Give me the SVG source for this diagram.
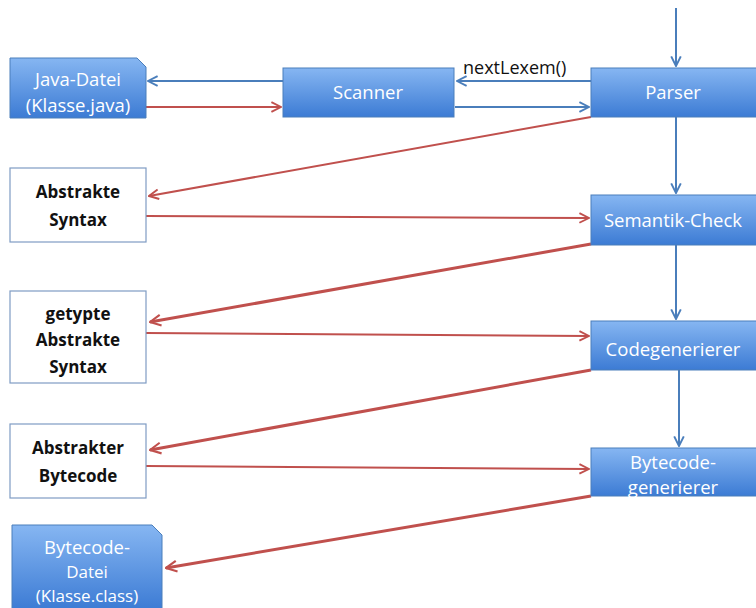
<svg xmlns="http://www.w3.org/2000/svg" width="756" height="608" viewBox="0 0 756 608">
<defs>
<linearGradient id="bg" x1="0" y1="0" x2="0" y2="1">
<stop offset="0" stop-color="#86b6f2"/>
<stop offset="1" stop-color="#3c7bd4"/>
</linearGradient>
<marker id="ab" viewBox="0 0 10 10" refX="9" refY="5" markerWidth="6" markerHeight="6" orient="auto" markerUnits="strokeWidth">
<path d="M1,1 L9,5 L1,9" fill="none" stroke="#4a7ebb" stroke-width="1.6"/>
</marker>
<marker id="ar" viewBox="0 0 10 10" refX="9" refY="5" markerWidth="6" markerHeight="6" orient="auto" markerUnits="strokeWidth">
<path d="M1,1 L9,5 L1,9" fill="none" stroke="#c0504d" stroke-width="1.6"/>
</marker>
<marker id="ar2" viewBox="0 0 10 10" refX="9" refY="5" markerWidth="4.5" markerHeight="4.5" orient="auto" markerUnits="strokeWidth">
<path d="M1,1 L9,5 L1,9" fill="none" stroke="#c0504d" stroke-width="1.6"/>
</marker>
</defs>
<style>
.bx{fill:url(#bg);stroke:#4a7ebb;stroke-width:1}
.wb{fill:#fff;stroke:#7f9cc4;stroke-width:1.2}
.wt{font-family:"Open Sans","Liberation Sans",sans-serif;font-size:18.5px;fill:#fff;text-anchor:middle}
.ws{font-family:"Open Sans","Liberation Sans",sans-serif;font-size:17px;fill:#fff;text-anchor:middle}
.bt{font-family:"Open Sans","Liberation Sans",sans-serif;font-size:17px;font-weight:bold;fill:#111;text-anchor:middle}
.lt{font-family:"Open Sans","Liberation Sans",sans-serif;font-size:18px;fill:#111}
.b{stroke:#4a7ebb;stroke-width:2;fill:none;marker-end:url(#ab)}
.r{stroke:#c0504d;stroke-width:2;fill:none;marker-end:url(#ar)}
.r3{stroke:#c0504d;stroke-width:3;fill:none;marker-end:url(#ar2)}
</style>
<g id="connectors">
<line class="b" x1="676" y1="8" x2="676" y2="66"/>
<line class="b" x1="591" y1="81" x2="457" y2="81"/>
<line class="b" x1="455" y1="107" x2="589" y2="107"/>
<line class="b" x1="283" y1="81" x2="148" y2="81"/>
<line class="r" x1="146" y1="107" x2="281" y2="107"/>
<line class="r" x1="591" y1="117" x2="149" y2="196"/>
<line class="b" x1="676" y1="117" x2="676" y2="193"/>
<line class="r" x1="146" y1="216" x2="589" y2="218"/>
<line class="r3" x1="591" y1="244" x2="150" y2="322"/>
<line class="b" x1="676" y1="245" x2="676" y2="319"/>
<line class="r" x1="146" y1="333" x2="589" y2="336"/>
<line class="r3" x1="591" y1="370" x2="150" y2="450"/>
<line class="b" x1="679" y1="370" x2="679" y2="446"/>
<line class="r" x1="146" y1="466" x2="589" y2="469"/>
<line class="r3" x1="591" y1="496" x2="166" y2="568"/>
<text class="lt" x="463" y="74">nextLexem()</text>
</g>
<g id="java-datei">
<path class="bx" d="M10,58 H137 L146,67 V118 H10 Z"/>
<text class="wt" x="78" y="86">Java-Datei</text>
<text class="wt" x="78" y="112">(Klasse.java)</text>
</g>
<g id="scanner">
<rect class="bx" x="283" y="68" width="171" height="49"/>
<text class="wt" x="368" y="99">Scanner</text>
</g>
<g id="parser">
<rect class="bx" x="591" y="68" width="166" height="49"/>
<text class="wt" x="673" y="99">Parser</text>
</g>
<g id="abstrakte-syntax">
<rect class="wb" x="10" y="168" width="136" height="74"/>
<text class="bt" x="78" y="198">Abstrakte</text>
<text class="bt" x="78" y="226">Syntax</text>
</g>
<g id="semantik-check">
<rect class="bx" x="591" y="195" width="166" height="50"/>
<text class="wt" x="673" y="227">Semantik-Check</text>
</g>
<g id="getypte-abstrakte-syntax">
<rect class="wb" x="10" y="291" width="136" height="92"/>
<text class="bt" x="78" y="320">getypte</text>
<text class="bt" x="78" y="346">Abstrakte</text>
<text class="bt" x="78" y="373">Syntax</text>
</g>
<g id="codegenerierer">
<rect class="bx" x="591" y="321" width="166" height="49"/>
<text class="wt" x="673" y="356">Codegenerierer</text>
</g>
<g id="abstrakter-bytecode">
<rect class="wb" x="10" y="424" width="136" height="74"/>
<text class="bt" x="78" y="454">Abstrakter</text>
<text class="bt" x="78" y="482">Bytecode</text>
</g>
<g id="bytecode-generierer">
<rect class="bx" x="591" y="448" width="166" height="48"/>
<text class="wt" x="673" y="469">Bytecode-</text>
<text class="wt" x="673" y="494">generierer</text>
</g>
<g id="bytecode-datei">
<path class="bx" d="M12,525 H152 L162,535 V610 H12 Z"/>
<text class="wt" x="87" y="554">Bytecode-</text>
<text class="ws" x="87" y="578">Datei</text>
<text class="ws" x="87" y="602">(Klasse.class)</text>
</g>
</svg>
